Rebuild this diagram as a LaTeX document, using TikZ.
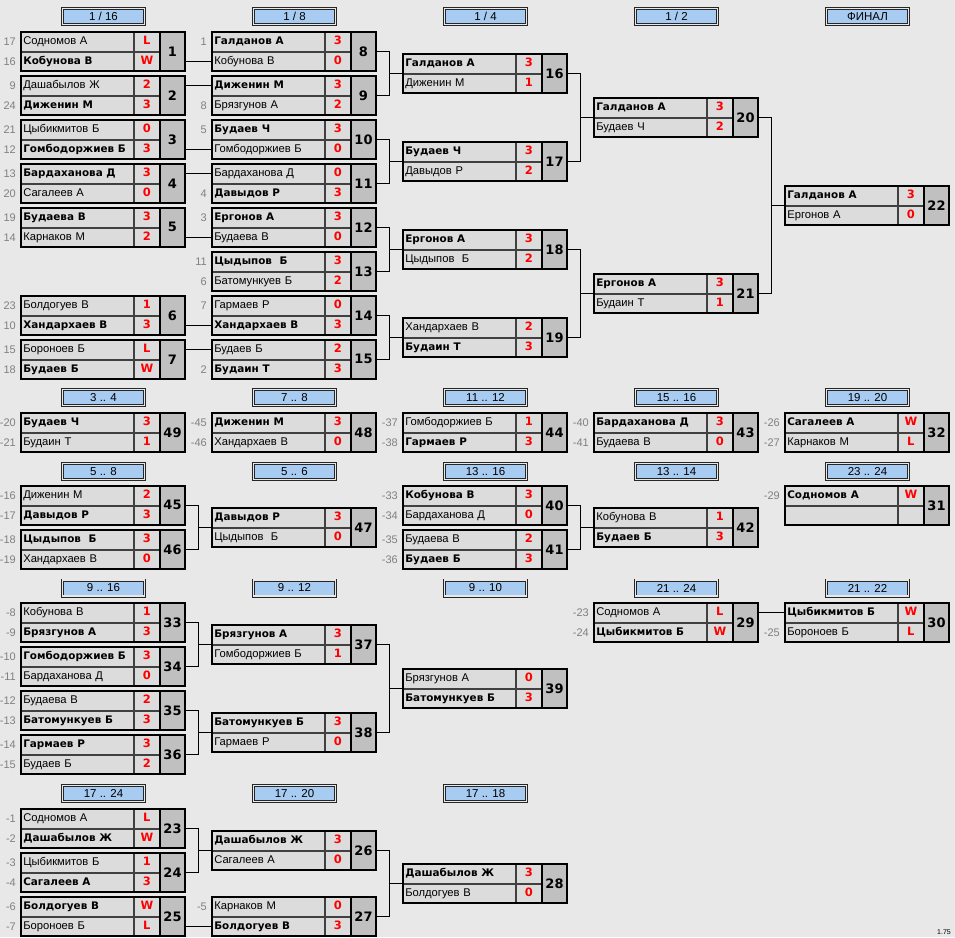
\documentclass[tikz,border=0pt]{standalone}
\usepackage{fontspec}
\setmainfont{Liberation Sans}
\newfontfamily\wfont{DejaVu Sans}
\usetikzlibrary{positioning}

\definecolor{bggray}{HTML}{E8E8E8}
\definecolor{cellgray}{HTML}{DCDCDC}
\definecolor{numgray}{HTML}{C0C0C0}
\definecolor{headblue}{HTML}{A8CBF1}
\definecolor{seedgray}{HTML}{808080}

\newcommand{\wn}[1]{{\wfont\bfseries\fontsize{10.4}{12}\selectfont #1}}
% one match: id, top left, number, player 1, score 1, player 2, score 2, seed 1, seed 2
\newcommand{\match}[9]{%
  \node[namecell, xshift=1pt, yshift=-1pt] (m#1a) at (#2) {#4};
  \node[namecell, below=0pt of m#1a] (m#1b) {#6};
  \node[scorecell, right=0pt of m#1a] (m#1s) {#5};
  \node[scorecell, right=0pt of m#1b] (m#1t) {#7};
  \node[numcell] (m#1) at (m#1s.north east) {#3};
  \draw[line width=2pt] (m#1.north west) -- (m#1.south west);
  \draw[line width=2pt] (m#1a.north west) rectangle (m#1.south east);
  \node[seed, left=5pt of m#1a] {#8};
  \node[seed, left=5pt of m#1b] {#9};
}

\begin{document}
\begin{tikzpicture}
  [
    x=1pt, y=-1pt,
    namecell/.style={draw=black!75, line width=0.6pt, fill=cellgray, anchor=north west,
      minimum width=112pt, minimum height=19pt, inner xsep=2pt, inner ysep=0pt,
      text width=108pt, align=left, text height=8pt, text depth=2.5pt,
      font=\fontsize{11.2}{13}\selectfont},
    scorecell/.style={draw=black!75, line width=0.6pt, fill=cellgray,
      minimum width=26pt, minimum height=19pt, inner sep=0pt,
      text height=8pt, text depth=2.5pt, text=red,
      font=\wfont\bfseries\fontsize{11.5}{13}\selectfont},
    numcell/.style={draw=black, line width=0.6pt, fill=numgray, anchor=north west,
      minimum width=24pt, minimum height=38pt, inner sep=0pt,
      font=\wfont\bfseries\fontsize{13}{15}\selectfont},
    seed/.style={text=seedgray, inner sep=0pt, font=\fontsize{11}{12}\selectfont},
    headbox/.style={draw=black!85, line width=0.8pt, double=bggray,
      double distance=1.4pt, fill=headblue, minimum width=82pt, minimum height=16pt,
      inner sep=0pt, font=\fontsize{11.5}{13}\selectfont},
    conn/.style={draw=black, line width=1pt}
  ]
  \fill[bggray] (0,0) rectangle (955,937);
  \useasboundingbox (0,0) rectangle (955,937);

  % round headers
  \node[headbox] (h1) at (103.5,16.5) {1 / 16};
  \node[headbox] (h2) at (294.5,16.5) {1 / 8};
  \node[headbox] (h3) at (485.5,16.5) {1 / 4};
  \node[headbox] (h4) at (676.5,16.5) {1 / 2};
  \node[headbox] (h5) at (867.5,16.5) {ФИНАЛ};
  \node[headbox] (h6) at (103.5,397.5) {3 .. 4};
  \node[headbox] (h7) at (294.5,397.5) {7 .. 8};
  \node[headbox] (h8) at (485.5,397.5) {11 .. 12};
  \node[headbox] (h9) at (676.5,397.5) {15 .. 16};
  \node[headbox] (h10) at (867.5,397.5) {19 .. 20};
  \node[headbox] (h11) at (103.5,471.5) {5 .. 8};
  \node[headbox] (h12) at (294.5,471.5) {5 .. 6};
  \node[headbox] (h13) at (485.5,471.5) {13 .. 16};
  \node[headbox] (h14) at (676.5,471.5) {13 .. 14};
  \node[headbox] (h15) at (867.5,471.5) {23 .. 24};
  \node[headbox] (h16) at (103.5,588) {9 .. 16};
  \node[headbox] (h17) at (294.5,588) {9 .. 12};
  \node[headbox] (h18) at (485.5,588) {9 .. 10};
  \node[headbox] (h19) at (676.5,588) {21 .. 24};
  \node[headbox] (h20) at (867.5,588) {21 .. 22};
  \node[headbox] (h21) at (103.5,793.5) {17 .. 24};
  \node[headbox] (h22) at (294.5,793.5) {17 .. 20};
  \node[headbox] (h23) at (485.5,793.5) {17 .. 18};

  % main bracket
  \match{1}{20,31}{1}{Содномов А}{L}{\wn{Кобунова В}}{W}{17}{16}
  \match{2}{20,75}{2}{Дашабылов Ж}{2}{\wn{Диженин М}}{3}{9}{24}
  \match{3}{20,119}{3}{Цыбикмитов Б}{0}{\wn{Гомбодоржиев Б}}{3}{21}{12}
  \match{4}{20,163}{4}{\wn{Бардаханова Д}}{3}{Сагалеев А}{0}{13}{20}
  \match{5}{20,207}{5}{\wn{Будаева В}}{3}{Карнаков М}{2}{19}{14}
  \match{6}{20,295}{6}{Болдогуев В}{1}{\wn{Хандархаев В}}{3}{23}{10}
  \match{7}{20,339}{7}{Бороноев Б}{L}{\wn{Будаев Б}}{W}{15}{18}
  \match{8}{211,31}{8}{\wn{Галданов А}}{3}{Кобунова В}{0}{1}{}
  \match{9}{211,75}{9}{\wn{Диженин М}}{3}{Брязгунов А}{2}{}{8}
  \match{10}{211,119}{10}{\wn{Будаев Ч}}{3}{Гомбодоржиев Б}{0}{5}{}
  \match{11}{211,163}{11}{Бардаханова Д}{0}{\wn{Давыдов Р}}{3}{}{4}
  \match{12}{211,207}{12}{\wn{Ергонов А}}{3}{Будаева В}{0}{3}{}
  \match{13}{211,251}{13}{\wn{Цыдыпов\ \ Б}}{3}{Батомункуев Б}{2}{11}{6}
  \match{14}{211,295}{14}{Гармаев Р}{0}{\wn{Хандархаев В}}{3}{7}{}
  \match{15}{211,339}{15}{Будаев Б}{2}{\wn{Будаин Т}}{3}{}{2}
  \match{16}{402,53}{16}{\wn{Галданов А}}{3}{Диженин М}{1}{}{}
  \match{17}{402,141}{17}{\wn{Будаев Ч}}{3}{Давыдов Р}{2}{}{}
  \match{18}{402,229}{18}{\wn{Ергонов А}}{3}{Цыдыпов\ \ Б}{2}{}{}
  \match{19}{402,317}{19}{Хандархаев В}{2}{\wn{Будаин Т}}{3}{}{}
  \match{20}{593,97}{20}{\wn{Галданов А}}{3}{Будаев Ч}{2}{}{}
  \match{21}{593,273}{21}{\wn{Ергонов А}}{3}{Будаин Т}{1}{}{}
  \match{22}{784,185}{22}{\wn{Галданов А}}{3}{Ергонов А}{0}{}{}

  % places
  \match{49}{20,412}{49}{\wn{Будаев Ч}}{3}{Будаин Т}{1}{-20}{-21}
  \match{48}{211,412}{48}{\wn{Диженин М}}{3}{Хандархаев В}{0}{-45}{-46}
  \match{44}{402,412}{44}{Гомбодоржиев Б}{1}{\wn{Гармаев Р}}{3}{-37}{-38}
  \match{43}{593,412}{43}{\wn{Бардаханова Д}}{3}{Будаева В}{0}{-40}{-41}
  \match{32}{784,412}{32}{\wn{Сагалеев А}}{W}{Карнаков М}{L}{-26}{-27}
  \match{45}{20,485}{45}{Диженин М}{2}{\wn{Давыдов Р}}{3}{-16}{-17}
  \match{46}{20,529}{46}{\wn{Цыдыпов\ \ Б}}{3}{Хандархаев В}{0}{-18}{-19}
  \match{47}{211,507}{47}{\wn{Давыдов Р}}{3}{Цыдыпов\ \ Б}{0}{}{}
  \match{40}{402,485}{40}{\wn{Кобунова В}}{3}{Бардаханова Д}{0}{-33}{-34}
  \match{41}{402,529}{41}{Будаева В}{2}{\wn{Будаев Б}}{3}{-35}{-36}
  \match{42}{593,507}{42}{Кобунова В}{1}{\wn{Будаев Б}}{3}{}{}
  \match{31}{784,485}{31}{\wn{Содномов А}}{W}{}{}{-29}{}
  \match{33}{20,602}{33}{Кобунова В}{1}{\wn{Брязгунов А}}{3}{-8}{-9}
  \match{34}{20,646}{34}{\wn{Гомбодоржиев Б}}{3}{Бардаханова Д}{0}{-10}{-11}
  \match{35}{20,690}{35}{Будаева В}{2}{\wn{Батомункуев Б}}{3}{-12}{-13}
  \match{36}{20,734}{36}{\wn{Гармаев Р}}{3}{Будаев Б}{2}{-14}{-15}
  \match{37}{211,624}{37}{\wn{Брязгунов А}}{3}{Гомбодоржиев Б}{1}{}{}
  \match{38}{211,712}{38}{\wn{Батомункуев Б}}{3}{Гармаев Р}{0}{}{}
  \match{39}{402,668}{39}{Брязгунов А}{0}{\wn{Батомункуев Б}}{3}{}{}
  \match{29}{593,602}{29}{Содномов А}{L}{\wn{Цыбикмитов Б}}{W}{-23}{-24}
  \match{30}{784,602}{30}{\wn{Цыбикмитов Б}}{W}{Бороноев Б}{L}{}{-25}
  \match{23}{20,808}{23}{Содномов А}{L}{\wn{Дашабылов Ж}}{W}{-1}{-2}
  \match{24}{20,852}{24}{Цыбикмитов Б}{1}{\wn{Сагалеев А}}{3}{-3}{-4}
  \match{25}{20,896}{25}{\wn{Болдогуев В}}{W}{Бороноев Б}{L}{-6}{-7}
  \match{26}{211,830}{26}{\wn{Дашабылов Ж}}{3}{Сагалеев А}{0}{}{}
  \match{27}{211,896}{27}{Карнаков М}{0}{\wn{Болдогуев В}}{3}{-5}{}
  \match{28}{402,863}{28}{\wn{Дашабылов Ж}}{3}{Болдогуев В}{0}{}{}

  % straight links
  \draw[conn] (m1.east |- m8b.west) -- (m8b.west);
  \draw[conn] (m2.east |- m9a.west) -- (m9a.west);
  \draw[conn] (m3.east |- m10b.west) -- (m10b.west);
  \draw[conn] (m4.east |- m11a.west) -- (m11a.west);
  \draw[conn] (m5.east |- m12b.west) -- (m12b.west);
  \draw[conn] (m6.east |- m14b.west) -- (m14b.west);
  \draw[conn] (m7.east |- m15a.west) -- (m15a.west);
  \draw[conn] (m29.east |- m30a.west) -- (m30a.west);
  \draw[conn] (m25.east |- m27b.west) -- (m27b.west);

  % pair links
  \draw[conn] (m8.east) -- ++(13.5,0) coordinate (j16) |- (m9.east);
  \draw[conn] (j16 |- m16a.south west) -- (m16a.south west);
  \draw[conn] (m10.east) -- ++(13.5,0) coordinate (j17) |- (m11.east);
  \draw[conn] (j17 |- m17a.south west) -- (m17a.south west);
  \draw[conn] (m12.east) -- ++(13.5,0) coordinate (j18) |- (m13.east);
  \draw[conn] (j18 |- m18a.south west) -- (m18a.south west);
  \draw[conn] (m14.east) -- ++(13.5,0) coordinate (j19) |- (m15.east);
  \draw[conn] (j19 |- m19a.south west) -- (m19a.south west);
  \draw[conn] (m16.east) -- ++(13.5,0) coordinate (j20) |- (m17.east);
  \draw[conn] (j20 |- m20a.south west) -- (m20a.south west);
  \draw[conn] (m18.east) -- ++(13.5,0) coordinate (j21) |- (m19.east);
  \draw[conn] (j21 |- m21a.south west) -- (m21a.south west);
  \draw[conn] (m20.east) -- ++(13.5,0) coordinate (j22) |- (m21.east);
  \draw[conn] (j22 |- m22a.south west) -- (m22a.south west);
  \draw[conn] (m45.east) -- ++(13.5,0) coordinate (j47) |- (m46.east);
  \draw[conn] (j47 |- m47a.south west) -- (m47a.south west);
  \draw[conn] (m40.east) -- ++(13.5,0) coordinate (j42) |- (m41.east);
  \draw[conn] (j42 |- m42a.south west) -- (m42a.south west);
  \draw[conn] (m33.east) -- ++(13.5,0) coordinate (j37) |- (m34.east);
  \draw[conn] (j37 |- m37a.south west) -- (m37a.south west);
  \draw[conn] (m35.east) -- ++(13.5,0) coordinate (j38) |- (m36.east);
  \draw[conn] (j38 |- m38a.south west) -- (m38a.south west);
  \draw[conn] (m37.east) -- ++(13.5,0) coordinate (j39) |- (m38.east);
  \draw[conn] (j39 |- m39a.south west) -- (m39a.south west);
  \draw[conn] (m23.east) -- ++(13.5,0) coordinate (j26) |- (m24.east);
  \draw[conn] (j26 |- m26a.south west) -- (m26a.south west);
  \draw[conn] (m26.east) -- ++(13.5,0) coordinate (j28) |- (m27.east);
  \draw[conn] (j28 |- m28a.south west) -- (m28a.south west);

  \node[anchor=south east, inner sep=0pt, font=\fontsize{7}{8}\selectfont] (ver) at (951,935) {1.75};
\end{tikzpicture}
\end{document}
